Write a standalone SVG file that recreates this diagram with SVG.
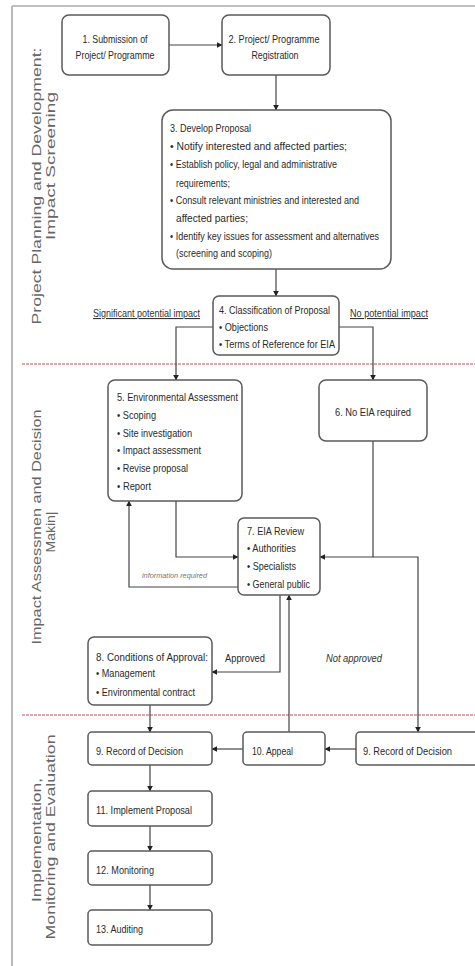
<svg xmlns="http://www.w3.org/2000/svg" width="475" height="966" viewBox="0 0 475 966">
<defs>
<marker id="ah" viewBox="0 0 10 10" refX="9" refY="5" markerWidth="5" markerHeight="5" orient="auto-start-reverse">
<path d="M0,0 L10,5 L0,10 z" fill="#222"/>
</marker>
</defs>
<style>
.box{fill:#fff;stroke:#5a5a5a;stroke-width:1.5}
.t{font-family:"Liberation Sans Narrow","Liberation Sans",Arial,sans-serif;font-size:11px;fill:#2a2a2a}
.lane{font-family:"Liberation Sans",Arial,sans-serif;font-size:13px;fill:#666}
.lbl{font-family:"Liberation Sans Narrow","Liberation Sans",Arial,sans-serif;font-size:11px;fill:#333;text-decoration:underline}
.it{font-family:"Liberation Sans Narrow","Liberation Sans",Arial,sans-serif;font-size:11px;fill:#333;font-style:italic}
.conn{fill:none;stroke:#444;stroke-width:1.2}
.sep{stroke:#e2a6b0;stroke-width:2;stroke-dasharray:3 1}
</style>
<rect x="0" y="0" width="475" height="966" fill="#fff"/>
<g id="frame">
<line x1="12" y1="6" x2="475" y2="6" stroke="#aaa" stroke-width="1.5"/>
<line x1="12" y1="6" x2="12" y2="966" stroke="#bbb" stroke-width="2"/>
<line class="sep" x1="22" y1="364" x2="475" y2="364"/>
<line class="sep" x1="22" y1="715" x2="475" y2="715"/>
</g>
<g id="lane1">
<text class="lane" transform="translate(41,186) rotate(-90)" text-anchor="middle" textLength="277" lengthAdjust="spacingAndGlyphs">Project Planning and Development:</text>
<text class="lane" transform="translate(55,166) rotate(-90)" text-anchor="middle" textLength="148" lengthAdjust="spacingAndGlyphs">Impact Screening</text>
</g>
<g id="lane2">
<text class="lane" transform="translate(41,527) rotate(-90)" text-anchor="middle" textLength="235" lengthAdjust="spacingAndGlyphs">Impact Assessmen and Decision</text>
<text class="lane" transform="translate(55,532) rotate(-90)" text-anchor="middle" textLength="41" lengthAdjust="spacingAndGlyphs">Makin|</text>
</g>
<g id="lane3">
<text class="lane" transform="translate(41,840) rotate(-90)" text-anchor="middle" textLength="124" lengthAdjust="spacingAndGlyphs">Implementation,</text>
<text class="lane" transform="translate(55,837) rotate(-90)" text-anchor="middle" textLength="205" lengthAdjust="spacingAndGlyphs">Monitoring and Evaluation</text>
</g>
<g id="connectors">
<line class="conn" x1="169" y1="45" x2="222" y2="45" marker-end="url(#ah)"/>
<line class="conn" x1="276" y1="75" x2="276" y2="110" marker-end="url(#ah)"/>
<line class="conn" x1="276" y1="269" x2="276" y2="296" marker-end="url(#ah)"/>
<polyline class="conn" points="213,327 176,327 176,380" marker-end="url(#ah)"/>
<polyline class="conn" points="339,327 373,327 373,380" marker-end="url(#ah)"/>
<polyline class="conn" points="176,501 176,557 238,557" marker-end="url(#ah)"/>
<polyline class="conn" points="238,587 129,587 129,501" marker-end="url(#ah)"/>
<polyline class="conn" points="373,441 373,557 320,557" marker-end="url(#ah)"/>
<polyline class="conn" points="373,557 418,557 418,732" marker-end="url(#ah)"/>
<polyline class="conn" points="280,595 280,672 212,672" marker-end="url(#ah)"/>
<line class="conn" x1="289" y1="732" x2="289" y2="595" marker-end="url(#ah)"/>
<line class="conn" x1="150" y1="705" x2="150" y2="732" marker-end="url(#ah)"/>
<line class="conn" x1="243" y1="749" x2="212" y2="749" marker-end="url(#ah)"/>
<line class="conn" x1="356" y1="749" x2="325" y2="749" marker-end="url(#ah)"/>
<line class="conn" x1="150" y1="765" x2="150" y2="791" marker-end="url(#ah)"/>
<line class="conn" x1="150" y1="826" x2="150" y2="851" marker-end="url(#ah)"/>
<line class="conn" x1="150" y1="885" x2="150" y2="910" marker-end="url(#ah)"/>
<text class="lbl" x="93" y="317" textLength="107" lengthAdjust="spacingAndGlyphs">Significant potential impact</text>
<text class="lbl" x="350" y="317" textLength="78" lengthAdjust="spacingAndGlyphs">No potential impact</text>
<text class="it" x="142" y="578" style="font-size:8px;fill:#777" textLength="65" lengthAdjust="spacingAndGlyphs">information required</text>
<text class="t" x="225" y="662" textLength="40" lengthAdjust="spacingAndGlyphs">Approved</text>
<text class="it" x="326" y="662" textLength="56" lengthAdjust="spacingAndGlyphs">Not approved</text>
</g>
<g id="n1">
<rect class="box" x="62" y="15" width="107" height="60" rx="7"/>
<text class="t" x="115" y="43" text-anchor="middle" textLength="65" lengthAdjust="spacingAndGlyphs">1. Submission of</text>
<text class="t" x="115" y="59" text-anchor="middle" textLength="79" lengthAdjust="spacingAndGlyphs">Project/ Programme</text>
</g>
<g id="n2">
<rect class="box" x="222" y="15" width="108" height="60" rx="7"/>
<text class="t" x="274" y="43" text-anchor="middle" textLength="91" lengthAdjust="spacingAndGlyphs">2. Project/ Programme</text>
<text class="t" x="275" y="59" text-anchor="middle" textLength="47" lengthAdjust="spacingAndGlyphs">Registration</text>
</g>
<g id="n3">
<rect class="box" x="162" y="110" width="229" height="159" rx="11"/>
<text class="t" x="170" y="132" textLength="81" lengthAdjust="spacingAndGlyphs">3. Develop Proposal</text>
<text class="t" x="170" y="150" textLength="177" lengthAdjust="spacingAndGlyphs">• Notify interested and affected parties;</text>
<text class="t" x="170" y="168" textLength="167" lengthAdjust="spacingAndGlyphs">• Establish policy, legal and administrative</text>
<text class="t" x="176" y="187" textLength="54" lengthAdjust="spacingAndGlyphs">requirements;</text>
<text class="t" x="170" y="204" textLength="189" lengthAdjust="spacingAndGlyphs">• Consult relevant ministries and interested and</text>
<text class="t" x="176" y="222" textLength="72" lengthAdjust="spacingAndGlyphs">affected parties;</text>
<text class="t" x="170" y="240" textLength="209" lengthAdjust="spacingAndGlyphs">• Identify key issues for assessment and alternatives</text>
<text class="t" x="176" y="257" textLength="96" lengthAdjust="spacingAndGlyphs">(screening and scoping)</text>
</g>
<g id="n4">
<rect class="box" x="213" y="296" width="126" height="59" rx="6"/>
<text class="t" x="219" y="314" textLength="111" lengthAdjust="spacingAndGlyphs">4. Classification of Proposal</text>
<text class="t" x="219" y="331" textLength="49" lengthAdjust="spacingAndGlyphs">• Objections</text>
<text class="t" x="219" y="348" textLength="116" lengthAdjust="spacingAndGlyphs">• Terms of Reference for EIA</text>
</g>
<g id="n5">
<rect class="box" x="108" y="380" width="134" height="121" rx="7"/>
<text class="t" x="117" y="401" textLength="121" lengthAdjust="spacingAndGlyphs">5. Environmental Assessment</text>
<text class="t" x="117" y="419" textLength="39" lengthAdjust="spacingAndGlyphs">• Scoping</text>
<text class="t" x="117" y="437" textLength="75" lengthAdjust="spacingAndGlyphs">• Site investigation</text>
<text class="t" x="117" y="454" textLength="84" lengthAdjust="spacingAndGlyphs">• Impact assessment</text>
<text class="t" x="117" y="472" textLength="71" lengthAdjust="spacingAndGlyphs">• Revise proposal</text>
<text class="t" x="117" y="490" textLength="34" lengthAdjust="spacingAndGlyphs">• Report</text>
</g>
<g id="n6">
<rect class="box" x="319" y="380" width="108" height="61" rx="7"/>
<text class="t" x="373" y="416" text-anchor="middle" textLength="76" lengthAdjust="spacingAndGlyphs">6. No EIA required</text>
</g>
<g id="n7">
<rect class="box" x="238" y="518" width="82" height="77" rx="6"/>
<text class="t" x="247" y="535" textLength="57" lengthAdjust="spacingAndGlyphs">7. EIA Review</text>
<text class="t" x="247" y="552" textLength="49" lengthAdjust="spacingAndGlyphs">• Authorities</text>
<text class="t" x="247" y="570" textLength="49" lengthAdjust="spacingAndGlyphs">• Specialists</text>
<text class="t" x="247" y="588" textLength="63" lengthAdjust="spacingAndGlyphs">• General public</text>
</g>
<g id="n8">
<rect class="box" x="88" y="637" width="124" height="68" rx="6"/>
<text class="t" x="96" y="661" textLength="112" lengthAdjust="spacingAndGlyphs">8. Conditions of Approval:</text>
<text class="t" x="96" y="677" textLength="59" lengthAdjust="spacingAndGlyphs">• Management</text>
<text class="t" x="96" y="696" textLength="99" lengthAdjust="spacingAndGlyphs">• Environmental contract</text>
</g>
<g id="n9">
<rect class="box" x="88" y="732" width="124" height="33" rx="4"/>
<text class="t" x="96" y="755" textLength="87" lengthAdjust="spacingAndGlyphs">9. Record of Decision</text>
</g>
<g id="n10">
<rect class="box" x="243" y="732" width="82" height="33" rx="4"/>
<text class="t" x="252" y="755" textLength="41" lengthAdjust="spacingAndGlyphs">10. Appeal</text>
</g>
<g id="n9b">
<rect class="box" x="356" y="732" width="126" height="33" rx="4"/>
<text class="t" x="363" y="755" textLength="89" lengthAdjust="spacingAndGlyphs">9. Record of Decision</text>
</g>
<g id="n11">
<rect class="box" x="88" y="791" width="124" height="35" rx="4"/>
<text class="t" x="96" y="814" textLength="96" lengthAdjust="spacingAndGlyphs">11. Implement Proposal</text>
</g>
<g id="n12">
<rect class="box" x="88" y="851" width="124" height="34" rx="4"/>
<text class="t" x="96" y="874" textLength="58" lengthAdjust="spacingAndGlyphs">12. Monitoring</text>
</g>
<g id="n13">
<rect class="box" x="88" y="910" width="124" height="35" rx="4"/>
<text class="t" x="96" y="933" textLength="47" lengthAdjust="spacingAndGlyphs">13. Auditing</text>
</g>
</svg>
